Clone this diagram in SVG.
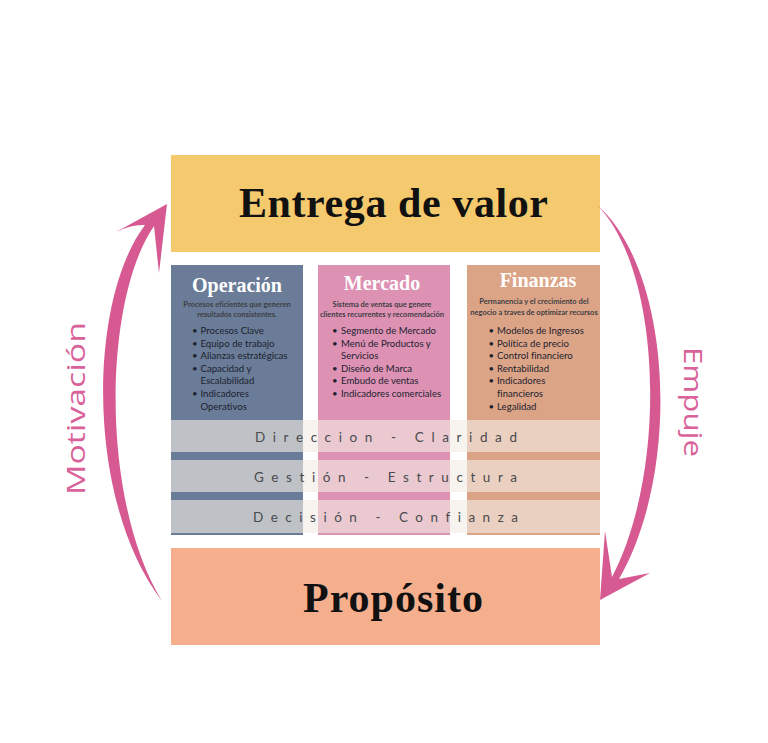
<svg xmlns="http://www.w3.org/2000/svg" width="768" height="743" viewBox="0 0 768 743">
<style>
text{font-variant-ligatures:none;font-feature-settings:"liga" 0,"clig" 0}
.title{font-family:"Liberation Serif","DejaVu Serif",serif;font-weight:bold;fill:#111;text-anchor:middle}
.coltitle{font-family:"Liberation Serif","DejaVu Serif",serif;font-weight:bold;fill:#fff;font-size:20px;text-anchor:middle}
.sub{font-family:Lato,"Liberation Sans",sans-serif;font-weight:bold;font-size:7.5px;fill:#3e3e44;text-anchor:middle}
.item{font-family:Lato,"Liberation Sans",sans-serif;font-size:9.6px;fill:#1c2230}
.band{fill:#f2ece4;opacity:0.62}
.bandtext{font-family:Lato,"Liberation Sans",sans-serif;font-size:13.5px;fill:#4a4a4e}
.side{font-family:"Open Sans","DejaVu Sans",sans-serif;font-size:26px;fill:#d9629a;text-anchor:middle}
.arrow{fill:#d65a91}
</style>
<rect width="768" height="743" fill="#ffffff"/>

<g id="entrega">
<rect x="171" y="155" width="429" height="97" fill="#f5c96d"/>
<text class="title" x="393.5" y="217" font-size="42" textLength="309">Entrega de valor</text>
</g>

<g id="proposito">
<rect x="171" y="548" width="429" height="97" fill="#f6af8d"/>
<text class="title" x="393" y="612" font-size="42" textLength="180">Propósito</text>
</g>

<g id="operacion">
<rect x="171" y="265" width="132" height="270" fill="#6a7c97"/>
<text class="coltitle" x="237" y="292">Operación</text>
<text class="sub" x="237" y="306.5">Procesos eficientes que generen</text>
<text class="sub" x="237" y="316.5">resultados consistentes.</text>
<g class="item">
<text x="192" y="334">•</text><text x="200.5" y="334">Procesos Clave</text>
<text x="192" y="346.5">•</text><text x="200.5" y="346.5">Equipo de trabajo</text>
<text x="192" y="359">•</text><text x="200.5" y="359">Alianzas estratégicas</text>
<text x="192" y="371.5">•</text><text x="200.5" y="371.5">Capacidad y</text>
<text x="200.5" y="384">Escalabilidad</text>
<text x="192" y="397">•</text><text x="200.5" y="397">Indicadores</text>
<text x="200.5" y="410">Operativos</text>
</g>
</g>

<g id="mercado">
<rect x="318" y="265" width="132" height="270" fill="#dd91b3"/>
<text class="coltitle" x="382" y="290">Mercado</text>
<text class="sub" x="382" y="306.5">Sistema de ventas que genere</text>
<text class="sub" x="382" y="316.5">clientes recurrentes y recomendación</text>
<g class="item">
<text x="332" y="334">•</text><text x="341" y="334">Segmento de Mercado</text>
<text x="332" y="346.5">•</text><text x="341" y="346.5">Menú de Productos y</text>
<text x="341" y="359">Servicios</text>
<text x="332" y="371.5">•</text><text x="341" y="371.5">Diseño de Marca</text>
<text x="332" y="384">•</text><text x="341" y="384">Embudo de ventas</text>
<text x="332" y="397">•</text><text x="341" y="397">Indicadores comerciales</text>
</g>
</g>

<g id="finanzas">
<rect x="467" y="265" width="133" height="270" fill="#dca486"/>
<text class="coltitle" x="538" y="287">Finanzas</text>
<text class="sub" x="534" y="304">Permanencia y el crecimiento del</text>
<text class="sub" x="534" y="315">negocio a traves de optimizar recursos</text>
<g class="item">
<text x="488.5" y="334">•</text><text x="497" y="334">Modelos de Ingresos</text>
<text x="488.5" y="346.5">•</text><text x="497" y="346.5">Política de precio</text>
<text x="488.5" y="359">•</text><text x="497" y="359">Control financiero</text>
<text x="488.5" y="371.5">•</text><text x="497" y="371.5">Rentabilidad</text>
<text x="488.5" y="384">•</text><text x="497" y="384">Indicadores</text>
<text x="497" y="397">financieros</text>
<text x="488.5" y="410">•</text><text x="497" y="410">Legalidad</text>
</g>
</g>

<g id="bands">
<rect class="band" x="171" y="420" width="429" height="32"/>
<rect class="band" x="171" y="460" width="429" height="32"/>
<rect class="band" x="171" y="500" width="429" height="33"/>
<text class="bandtext" x="255" y="441.5" textLength="262">Direccion - Claridad</text>
<text class="bandtext" x="254" y="481.5" textLength="263">Gestión - Estructura</text>
<text class="bandtext" x="253" y="521.5" textLength="265">Decisión - Confianza</text>
</g>

<g id="connectors">
<path class="arrow" d="M167,204 L116,232 Q132,224 145,225 C88,300 85,500 162,601 C100,500 103,300 154,226 L159,273 Z"/>
<path class="arrow" d="M597,205 C672,270 682,470 619,579 L650,573 L600,600 L605,531 L612,577 C668,470 662,270 597,205 Z"/>
</g>

<g id="labels">
<text class="side" transform="translate(85,408.5) rotate(-90)" textLength="173" lengthAdjust="spacingAndGlyphs">Motivación</text>
<text class="side" transform="translate(684,402) rotate(90)" textLength="110" lengthAdjust="spacingAndGlyphs">Empuje</text>
</g>
</svg>
